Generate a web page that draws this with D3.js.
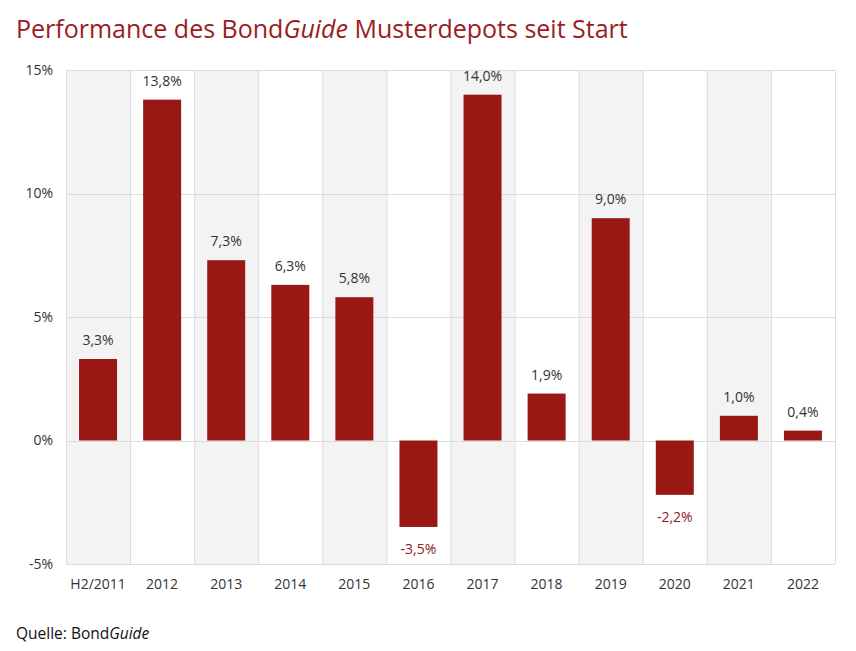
<!DOCTYPE html>
<html lang="de">
  <head>
    <meta charset="utf-8" />
    <title>Performance des BondGuide Musterdepots</title>
    <style>
      body {
        margin: 0;
        background: #fff;
        font-family: "Open Sans", "Noto Sans", sans-serif;
      }
      svg {
        display: block;
      }
    </style>
  </head>
  <body>
    <svg width="856" height="651"></svg>

    <script src="https://cdn.jsdelivr.net/npm/d3@7"></script>
    <script>
      const categories = ["H2/2011", "2012", "2013", "2014", "2015", "2016",
        "2017", "2018", "2019", "2020", "2021", "2022"];
      const values = [3.3, 13.8, 7.3, 6.3, 5.8, -3.5, 14.0, 1.9, 9.0, -2.2, 1.0, 0.4];
      const yTicks = [-5, 0, 5, 10, 15];

      const width = 856;
      const height = 651;
      const margin = { top: 70, right: 21, bottom: 87, left: 66 };
      const red = "#9a1814";

      const svg = d3.select("svg");

      const x = d3
        .scaleBand()
        .domain(categories)
        .range([margin.left, width - margin.right]);

      const y = d3
        .scaleLinear()
        .domain([-5, 15])
        .range([height - margin.bottom, margin.top]);

      // german decimal comma, plain hyphen for minus
      const fmt = (v) => d3.format(".1f")(v).replace(".", ",").replace("\u2212", "-") + "%";

      // alternating column bands
      svg
        .append("g")
        .selectAll("rect")
        .data(categories)
        .join("rect")
        .attr("x", (d) => x(d))
        .attr("y", y(15))
        .attr("width", x.bandwidth())
        .attr("height", y(-5) - y(15))
        .attr("fill", (d, i) => (i % 2 === 0 ? "#f3f3f3" : "#fff"));

      // vertical separators
      const seps = categories.map((d) => x(d)).concat([width - margin.right]);
      svg
        .append("g")
        .selectAll("line")
        .data(seps)
        .join("line")
        .attr("x1", (d) => d + 0.5)
        .attr("x2", (d) => d + 0.5)
        .attr("y1", y(15))
        .attr("y2", y(-5))
        .attr("stroke", "#dcdcdc");

      // horizontal grid
      svg
        .append("g")
        .selectAll("line")
        .data(yTicks)
        .join("line")
        .attr("x1", margin.left)
        .attr("x2", width - margin.right)
        .attr("y1", (d) => Math.round(y(d)) + 0.5)
        .attr("y2", (d) => Math.round(y(d)) + 0.5)
        .attr("stroke", "#dcdcdc");

      // y axis
      const yAxis = svg
        .append("g")
        .attr("transform", `translate(${margin.left - 10},0)`)
        .call(
          d3
            .axisLeft(y)
            .tickValues(yTicks)
            .tickSize(0)
            .tickFormat((d) => d + "%")
        );
      yAxis.select(".domain").remove();
      yAxis
        .selectAll("text")
        .attr("font-size", 14)
        .attr("font-family", "Open Sans, sans-serif")
        .attr("fill", "#333");

      // x axis
      const xAxis = svg
        .append("g")
        .attr("transform", `translate(0,${y(-5) + 12})`)
        .call(d3.axisBottom(x).tickSize(0));
      xAxis.select(".domain").remove();
      xAxis
        .selectAll("text")
        .attr("font-size", 14)
        .attr("font-family", "Open Sans, sans-serif")
        .attr("fill", "#333");

      // bars
      const barW = 38;
      svg
        .append("g")
        .selectAll("rect")
        .data(values)
        .join("rect")
        .attr("x", (d, i) => x(categories[i]) + x.bandwidth() / 2 - barW / 2)
        .attr("y", (d) => y(Math.max(0, d)))
        .attr("width", barW)
        .attr("height", (d) => Math.abs(y(d) - y(0)))
        .attr("fill", red);

      // value labels
      svg
        .append("g")
        .selectAll("text")
        .data(values)
        .join("text")
        .attr("x", (d, i) => x(categories[i]) + x.bandwidth() / 2)
        .attr("y", (d) => (d >= 0 ? y(d) - 14 : y(d) + 27))
        .attr("text-anchor", "middle")
        .attr("font-size", 14)
        .attr("fill", (d) => (d >= 0 ? "#333" : "#8c1a22"))
        .text((d) => fmt(d));

      // title
      const title = svg
        .append("text")
        .attr("x", 16)
        .attr("y", 38)
        .attr("font-size", 25)
        .attr("fill", "#9a1c1f");
      title.append("tspan").text("Performance des Bond");
      title.append("tspan").attr("font-style", "italic").text("Guide");
      title.append("tspan").text(" Musterdepots seit Start");

      // source
      const src = svg
        .append("text")
        .attr("x", 16)
        .attr("y", 639)
        .attr("font-size", 15.5)
        .attr("fill", "#111");
      src.append("tspan").text("Quelle: Bond");
      src.append("tspan").attr("font-style", "italic").text("Guide");
    </script>
  </body>
</html>
